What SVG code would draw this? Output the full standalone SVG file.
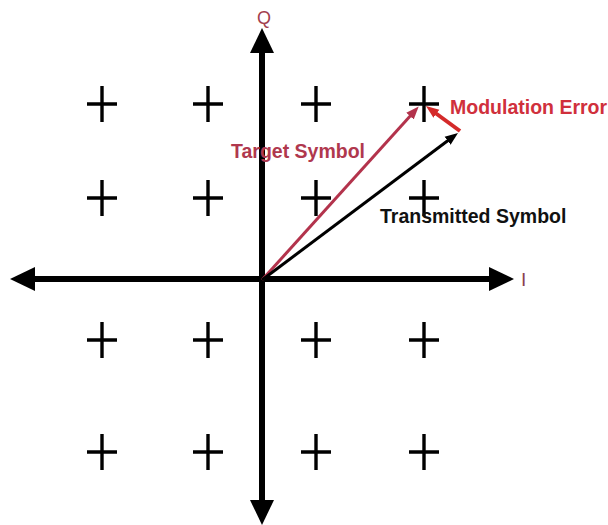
<svg xmlns="http://www.w3.org/2000/svg" xmlns:xlink="http://www.w3.org/1999/xlink" width="608" height="525" viewBox="0 0 608 525">
<style>
.axis{stroke:#000;stroke-width:6;fill:none}
.pt{stroke:#000;stroke-width:3.4;fill:none}
.lbl{font-family:"Liberation Sans",Arial,sans-serif;font-weight:bold;font-size:19.5px}
</style>
<defs>
<marker id="ah" markerUnits="userSpaceOnUse" markerWidth="26" markerHeight="26" refX="0" refY="12" orient="auto-start-reverse" viewBox="0 0 26 24">
<path d="M0,0 L25,12 L0,24 z" fill="#000"/>
</marker>
<marker id="vb" markerUnits="userSpaceOnUse" markerWidth="14" markerHeight="12" refX="3" refY="5" orient="auto" viewBox="0 0 14 10">
<path d="M0,0 L13,5 L0,10 z" fill="#000"/>
</marker>
<marker id="vr" markerUnits="userSpaceOnUse" markerWidth="14" markerHeight="12" refX="3" refY="5" orient="auto" viewBox="0 0 14 10">
<path d="M0,0 L13,5 L0,10 z" fill="#b3334c"/>
</marker>
<marker id="ve" markerUnits="userSpaceOnUse" markerWidth="14" markerHeight="12" refX="3" refY="5" orient="auto" viewBox="0 0 14 10">
<path d="M0,0 L13,5 L0,10 z" fill="#d42a2a"/>
</marker>
<path id="plus" d="M-15,0 H15 M0,-18 V18"/>
</defs>
<rect width="608" height="525" fill="#fff"/>
<g id="points" class="pt">
<use xlink:href="#plus" x="102" y="104"/><use xlink:href="#plus" x="208" y="104"/><use xlink:href="#plus" x="316" y="104"/><use xlink:href="#plus" x="424" y="104"/>
<use xlink:href="#plus" x="102" y="198"/><use xlink:href="#plus" x="208" y="198"/><use xlink:href="#plus" x="316" y="198"/><use xlink:href="#plus" x="424" y="198"/>
<use xlink:href="#plus" x="102" y="340"/><use xlink:href="#plus" x="208" y="340"/><use xlink:href="#plus" x="316" y="340"/><use xlink:href="#plus" x="424" y="340"/>
<use xlink:href="#plus" x="102" y="452"/><use xlink:href="#plus" x="208" y="452"/><use xlink:href="#plus" x="316" y="452"/><use xlink:href="#plus" x="424" y="452"/>
</g>
<g id="connectors">
<line class="axis" x1="262" y1="53" x2="262" y2="500" marker-start="url(#ah)" marker-end="url(#ah)"/>
<line class="axis" x1="35" y1="279" x2="489" y2="279" marker-start="url(#ah)" marker-end="url(#ah)"/>
<line x1="262" y1="280" x2="412" y2="114" stroke="#b3334c" stroke-width="3" marker-end="url(#vr)"/>
<line x1="262" y1="280" x2="450" y2="139" stroke="#000" stroke-width="3" marker-end="url(#vb)"/>
<line x1="460" y1="131" x2="434" y2="112" stroke="#d42a2a" stroke-width="4" marker-end="url(#ve)"/>
</g>
<g id="label-q"><text x="264" y="24" text-anchor="middle" font-family="Liberation Sans,Arial,sans-serif" font-size="18" fill="#a2404e">Q</text></g>
<g id="label-i"><text x="521" y="286" font-family="Liberation Sans,Arial,sans-serif" font-size="19" fill="#8a4050">I</text></g>
<g id="label-error"><text class="lbl" x="450" y="114" fill="#d0303c">Modulation Error</text></g>
<g id="label-target"><text class="lbl" x="231" y="158" fill="#b0384e">Target Symbol</text></g>
<g id="label-transmitted"><text class="lbl" x="380" y="223" fill="#111">Transmitted Symbol</text></g>
</svg>
